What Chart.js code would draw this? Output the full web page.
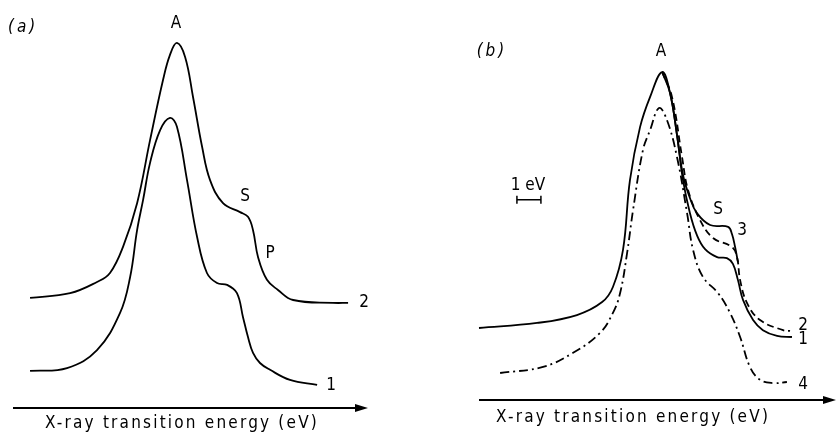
<!DOCTYPE html>
<html>
<head>
<meta charset="utf-8">
<script src="https://cdn.jsdelivr.net/npm/chart.js"></script>
<style>
  body { margin: 0; background: #fff; }
  .wrap { display: flex; width: 836px; height: 432px; }
  .panel { width: 418px; height: 432px; }
</style>
</head>
<body>
<div class="wrap">
  <div class="panel"><canvas id="chartA" width="418" height="432"></canvas></div>
  <div class="panel"><canvas id="chartB" width="418" height="432"></canvas></div>
</div>
<script>
// energies in eV (arbitrary origin), intensities in arbitrary units
// panel (a)
const aCurve1X = [0.71, 2.25, 3.5, 4.46, 4.88, 5.17, 5.42, 5.71, 6.13, 6.54, 6.83, 7.25, 7.67, 8.08, 8.5, 8.92, 9.33, 9.58, 9.79, 10.0, 10.29, 10.71, 11.54, 12.67];
const aCurve1Y = [1.03, 1.11, 1.61, 2.64, 3.64, 4.94, 5.78, 6.81, 7.72, 8.06, 7.81, 6.33, 4.75, 3.75, 3.47, 3.42, 3.19, 2.53, 1.97, 1.53, 1.25, 1.06, 0.78, 0.64];
const aCurve2X = [0.71, 2.38, 3.5, 4.04, 4.58, 5.17, 5.71, 6.25, 6.54, 6.83, 7.17, 7.5, 7.88, 8.21, 8.75, 9.46, 9.79, 10.0, 10.21, 10.58, 11.04, 11.67, 13.33, 13.96];
const aCurve2Y = [3.06, 3.19, 3.5, 3.75, 4.47, 5.69, 7.44, 9.11, 9.81, 10.14, 9.75, 8.64, 7.25, 6.33, 5.69, 5.44, 5.31, 4.94, 4.19, 3.56, 3.28, 3.0, 2.92, 2.92];

// panel (b)
const bCurve1X = [0.0, 2.42, 4.08, 5.13, 5.58, 6.0, 6.29, 6.71, 7.13, 7.63, 7.96, 8.25, 8.5, 8.79, 9.08, 9.42, 9.92, 10.33, 10.58, 10.79, 11.0, 11.42, 11.83, 12.42, 13.04];
const bCurve1Y = [2.0, 2.14, 2.36, 2.72, 3.14, 4.17, 6.11, 7.58, 8.42, 9.11, 8.53, 7.36, 6.11, 5.19, 4.58, 4.19, 3.97, 3.94, 3.78, 3.33, 2.78, 2.22, 1.94, 1.78, 1.75];
const bCurve2X = [7.63, 8.04, 8.46, 8.71, 9.21, 9.75, 10.54, 10.75, 10.88, 11.17, 11.71, 12.67, 12.96];
const bCurve2Y = [9.11, 8.42, 6.75, 5.83, 5.0, 4.5, 4.25, 3.97, 3.33, 2.69, 2.22, 1.94, 1.92];
const bCurve3X = [7.63, 7.96, 8.25, 8.5, 8.79, 9.08, 9.63, 10.38, 10.54, 10.67, 10.79];
const bCurve3Y = [9.11, 8.53, 7.36, 6.25, 5.61, 5.19, 4.86, 4.81, 4.61, 4.25, 3.83];
const bCurve4X = [0.88, 2.67, 3.92, 5.04, 5.58, 5.88, 6.17, 6.42, 6.83, 7.13, 7.5, 7.83, 8.25, 8.67, 8.92, 9.33, 9.96, 10.46, 10.88, 11.29, 11.71, 12.25, 12.83];
const bCurve4Y = [0.75, 0.92, 1.31, 1.86, 2.42, 2.97, 4.08, 5.28, 6.94, 7.5, 8.11, 7.78, 6.75, 5.19, 4.17, 3.42, 2.97, 2.42, 1.75, 0.92, 0.56, 0.47, 0.5];

const axisTitle = 'X-ray transition energy (eV)';
const FONT = '"DejaVu Sans Condensed", "DejaVu Sans", sans-serif';

function pts(xs, ys) {
  return xs.map((x, i) => ({ x: x, y: ys[i] }));
}

function curve(xs, ys, dash) {
  return {
    data: pts(xs, ys),
    borderColor: '#000',
    borderWidth: 1.8,
    borderDash: dash || [],
    pointRadius: 0,
    tension: 0.4,
    fill: false,
    clip: false
  };
}

// axis arrow, axis title, letters on the curves, scale bar
const figurePlugin = {
  id: 'figure',
  afterDatasetsDraw(chart, args, opts) {
    const { ctx, chartArea, scales: { x, y } } = chart;
    ctx.save();
    ctx.fillStyle = '#000';
    ctx.strokeStyle = '#000';

    const yb = chartArea.bottom;
    ctx.lineWidth = 2;
    ctx.beginPath();
    ctx.moveTo(chartArea.left, yb);
    ctx.lineTo(chartArea.right - 8, yb);
    ctx.stroke();
    ctx.beginPath();
    ctx.moveTo(chartArea.right, yb);
    ctx.lineTo(chartArea.right - 13, yb - 4);
    ctx.lineTo(chartArea.right - 13, yb + 4);
    ctx.closePath();
    ctx.fill();

    ctx.textAlign = 'center';
    ctx.textBaseline = 'middle';
    ctx.font = '17px ' + FONT;
    ctx.letterSpacing = '2.2px';
    ctx.fillText(axisTitle, x.getPixelForValue(opts.titleX), yb + opts.titleGap);

    opts.labels.forEach(l => {
      ctx.font = (l.italic ? 'italic ' : '') + '17px ' + FONT;
      ctx.letterSpacing = l.spacing || '0px';
      ctx.fillText(l.text, x.getPixelForValue(l.x), y.getPixelForValue(l.y));
    });

    if (opts.scaleBar) {
      const sb = opts.scaleBar;
      const x0 = x.getPixelForValue(sb.x);
      const x1 = x.getPixelForValue(sb.x + sb.width);
      const py = y.getPixelForValue(sb.y);
      ctx.lineWidth = 1.5;
      ctx.beginPath();
      ctx.moveTo(x0, py); ctx.lineTo(x1, py);
      ctx.moveTo(x0, py - 4); ctx.lineTo(x0, py + 4);
      ctx.moveTo(x1, py - 4); ctx.lineTo(x1, py + 4);
      ctx.stroke();
    }
    ctx.restore();
  }
};

function makeChart(id, datasets, xMax, padding, fig) {
  return new Chart(document.getElementById(id), {
    type: 'line',
    data: { datasets: datasets },
    options: {
      responsive: false,
      animation: false,
      events: [],
      layout: { padding: padding },
      scales: {
        x: { type: 'linear', min: 0, max: xMax, display: false },
        y: { type: 'linear', min: 0, max: 10.5, display: false }
      },
      plugins: {
        legend: { display: false },
        tooltip: { enabled: false },
        figure: fig
      }
    },
    plugins: [figurePlugin]
  });
}

makeChart('chartA', [
  curve(aCurve1X, aCurve1Y),
  curve(aCurve2X, aCurve2Y)
], 14.79, { left: 13, right: 50, top: 30, bottom: 24 }, {
  titleX: 7.04,
  titleGap: 16,
  labels: [
    { text: '(a)', x: 0.42, y: 10.58, italic: true, spacing: '3px' },
    { text: 'A', x: 6.79, y: 10.69 },
    { text: 'S', x: 9.67, y: 5.86 },
    { text: 'P', x: 10.71, y: 4.28 },
    { text: '2', x: 14.63, y: 2.94 },
    { text: '1', x: 13.25, y: 0.61 }
  ]
});

makeChart('chartB', [
  curve(bCurve1X, bCurve1Y),
  curve(bCurve3X, bCurve3Y),
  curve(bCurve2X, bCurve2Y, [7, 4]),
  curve(bCurve4X, bCurve4Y, [9, 4, 2, 4])
], 14.875, { left: 61, right: 0, top: 22, bottom: 32 }, {
  titleX: 6.42,
  titleGap: 18,
  labels: [
    { text: '(b)', x: 0.54, y: 9.67, italic: true, spacing: '3px' },
    { text: 'A', x: 7.58, y: 9.69 },
    { text: '1 eV', x: 2.04, y: 5.97 },
    { text: 'S', x: 9.96, y: 5.28 },
    { text: '3', x: 10.96, y: 4.72 },
    { text: '2', x: 13.5, y: 2.08 },
    { text: '1', x: 13.5, y: 1.67 },
    { text: '4', x: 13.5, y: 0.44 }
  ],
  scaleBar: { x: 1.58, width: 1, y: 5.56 }
});
</script>
</body>
</html>
